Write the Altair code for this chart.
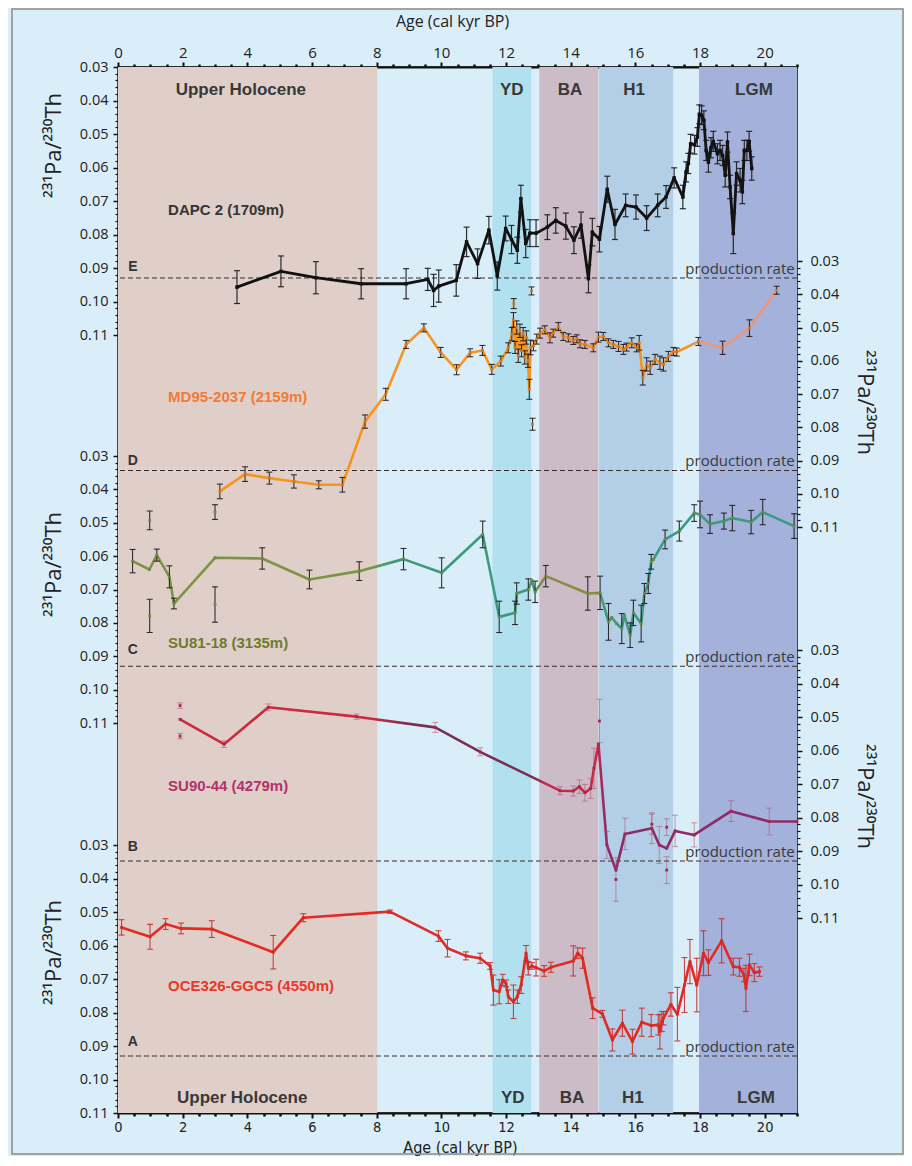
import altair as alt
import pandas as pd

FONT = "Open Sans"
BOLD = "Liberation Sans"
COND = "Liberation Sans Narrow, DejaVu Sans Condensed, Open Sans"

# ---------------- axes values ----------------
x_domain = [0, 21]
x_major_ticks = [0, 2, 4, 6, 8, 10, 12, 14, 16, 18, 20]
x_minor_ticks = [0.5, 1, 1.5, 2.5, 3, 3.5, 4.5, 5, 5.5, 6.5, 7, 7.5, 8.5, 9, 9.5,
                 10.5, 11, 11.5, 12.5, 13, 13.5, 14.5, 15, 15.5, 16.5, 17, 17.5,
                 18.5, 19, 19.5, 20.5, 21]
y_domain = [0.03, 0.11]
y_major_ticks = [0.03, 0.04, 0.05, 0.06, 0.07, 0.08, 0.09, 0.10, 0.11]
y_minor_ticks = [0.032, 0.034, 0.036, 0.038, 0.042, 0.044, 0.046, 0.048,
                 0.052, 0.054, 0.056, 0.058, 0.062, 0.064, 0.066, 0.068,
                 0.072, 0.074, 0.076, 0.078, 0.082, 0.084, 0.086, 0.088,
                 0.092, 0.094, 0.096, 0.098, 0.102, 0.104, 0.106, 0.108]
production_rate = 0.093
ratio_title = "²³¹Pa/²³⁰Th"

# ---------------- climate intervals ----------------
band_start = [0.0, 11.58, 13.03, 14.88, 17.97]
band_end = [8.02, 12.78, 14.86, 17.17, 21.0]
band_colors = ["#dfcfc8", "#b1e1ef", "#cbbcc8", "#b3cfe7", "#a3b1db"]
band_names = ["Upper Holocene", "YD", "BA", "H1", "LGM"]
band_label_age_top = [3.8, 12.18, 13.98, 15.96, 19.67]
band_label_age_bottom = [3.84, 12.21, 14.04, 15.92, 19.73]

# ---------------- E : DAPC 2 ----------------
E_age = [3.68, 5.04, 6.12, 7.52, 8.91, 9.58, 9.76, 9.92, 10.46, 10.78,
         11.12, 11.47, 11.73, 11.99, 12.17, 12.35, 12.46, 12.61, 12.74, 12.93,
         13.28, 13.54, 13.85, 14.10, 14.32, 14.55, 14.67, 14.89, 15.13, 15.37,
         15.70, 16.02, 16.35, 16.69, 16.95, 17.20, 17.47, 17.57, 17.64, 17.71,
         17.83, 17.92, 17.98, 18.05, 18.12, 18.19, 18.26, 18.34, 18.41, 18.54,
         18.62, 18.70, 18.78, 18.85, 18.93, 19.03, 19.13, 19.24, 19.31, 19.37,
         19.45, 19.52, 19.60]
E_val = [0.0957, 0.0910, 0.0929, 0.0947, 0.0947, 0.0934, 0.0967, 0.0954, 0.0937, 0.0822,
         0.0887, 0.0787, 0.0924, 0.0782, 0.0815, 0.0847, 0.0693, 0.0827, 0.0796, 0.0796,
         0.0778, 0.0758, 0.0775, 0.0817, 0.0772, 0.0932, 0.0793, 0.0814, 0.0665, 0.0770,
         0.0713, 0.0718, 0.0751, 0.0713, 0.0688, 0.0631, 0.0688, 0.0613, 0.0588, 0.0529,
         0.0532, 0.0509, 0.0441, 0.0444, 0.0459, 0.0549, 0.0584, 0.0541, 0.0522, 0.0559,
         0.0549, 0.0564, 0.0623, 0.0524, 0.0658, 0.0797, 0.0618, 0.0638, 0.0673, 0.0549,
         0.0549, 0.0522, 0.0603]
E_err = [0.0049, 0.0046, 0.0048, 0.0045, 0.0045, 0.0033, 0.0048, 0.0048, 0.0047, 0.0044,
         0.0044, 0.0041, 0.0042, 0.0037, 0.0042, 0.0039, 0.0040, 0.0042, 0.0040, 0.0040,
         0.0037, 0.0038, 0.0039, 0.0040, 0.0039, 0.0042, 0.0041, 0.0038, 0.0039, 0.0045,
         0.0034, 0.0036, 0.0037, 0.0034, 0.0034, 0.0030, 0.0035, 0.0030, 0.0030, 0.0028,
         0.0028, 0.0028, 0.0028, 0.0028, 0.0028, 0.0030, 0.0030, 0.0030, 0.0030, 0.0030,
         0.0030, 0.0030, 0.0035, 0.0030, 0.0035, 0.0060, 0.0035, 0.0035, 0.0035, 0.0030,
         0.0030, 0.0030, 0.0035]

# ---------------- D : MD95-2037 ----------------
D_age = [3.15, 3.93, 4.68, 5.44, 6.21, 6.94, 7.64, 8.28, 8.91, 9.46,
         9.98, 10.47, 10.89, 11.27, 11.56, 11.84, 12.07, 12.18, 12.23, 12.28,
         12.33, 12.38, 12.43, 12.48, 12.53, 12.58, 12.63, 12.68, 12.72, 12.76,
         12.85, 12.95, 13.05, 13.20, 13.36, 13.46, 13.62, 13.77, 13.93, 14.08,
         14.19, 14.29, 14.44, 14.70, 14.86, 15.01, 15.17, 15.32, 15.48, 15.63,
         15.73, 15.89, 16.04, 16.12, 16.23, 16.35, 16.46, 16.61, 16.76, 16.87,
         17.02, 17.18, 17.28, 17.95, 18.70, 19.53, 20.37]
D_val = [0.0993, 0.0941, 0.0953, 0.0963, 0.0973, 0.0973, 0.0783, 0.0701, 0.0551, 0.0501,
         0.0575, 0.0627, 0.0576, 0.0569, 0.0626, 0.0601, 0.0561, 0.0520, 0.0477, 0.0560,
         0.0500, 0.0585, 0.0510, 0.0570, 0.0520, 0.0590, 0.0530, 0.0600, 0.0686, 0.0560,
         0.0555, 0.0535, 0.0517, 0.0507, 0.0531, 0.0517, 0.0497, 0.0527, 0.0531, 0.0539,
         0.0534, 0.0549, 0.0551, 0.0561, 0.0529, 0.0527, 0.0546, 0.0551, 0.0557, 0.0566,
         0.0559, 0.0546, 0.0561, 0.0546, 0.0651, 0.0611, 0.0621, 0.0596, 0.0606, 0.0611,
         0.0587, 0.0572, 0.0574, 0.0542, 0.0561, 0.0502, 0.0388]
D_err = [0.0022, 0.0022, 0.0018, 0.0020, 0.0012, 0.0022, 0.0020, 0.0018, 0.0012, 0.0012,
         0.0015, 0.0015, 0.0012, 0.0015, 0.0015, 0.0015, 0.0015, 0.0020, 0.0022, 0.0018,
         0.0020, 0.0020, 0.0020, 0.0018, 0.0020, 0.0020, 0.0020, 0.0020, 0.0030, 0.0022,
         0.0015, 0.0015, 0.0015, 0.0012, 0.0015, 0.0012, 0.0012, 0.0012, 0.0012, 0.0012,
         0.0012, 0.0012, 0.0012, 0.0012, 0.0015, 0.0012, 0.0012, 0.0012, 0.0015, 0.0015,
         0.0012, 0.0015, 0.0012, 0.0022, 0.0022, 0.0020, 0.0020, 0.0015, 0.0020, 0.0020,
         0.0015, 0.0012, 0.0012, 0.0012, 0.0020, 0.0025, 0.0012]
D_iso_age = [12.24, 12.79, 12.82]
D_iso_val = [0.0428, 0.0390, 0.0791]
D_iso_err = [0.0015, 0.0012, 0.0018]

# ---------------- C : SU81-18 ----------------
C_age = [0.45, 0.97, 1.20, 1.59, 1.73, 3.00, 4.46, 5.92, 7.46, 8.83,
         10.01, 11.28, 11.79, 12.28, 12.33, 12.69, 12.80, 12.90, 13.23, 14.53,
         14.91, 15.17, 15.27, 15.42, 15.58, 15.66, 15.84, 15.94, 16.18, 16.28,
         16.40, 16.49, 16.56, 16.92, 17.36, 17.82, 18.00, 18.31, 18.74, 19.00,
         19.58, 19.94, 20.91]
C_val = [0.0615, 0.0640, 0.0597, 0.0662, 0.0742, 0.0605, 0.0607, 0.0670, 0.0645, 0.0609,
         0.0650, 0.0535, 0.0782, 0.0770, 0.0712, 0.0700, 0.0672, 0.0707, 0.0660, 0.0712,
         0.0710, 0.0797, 0.0784, 0.0802, 0.0817, 0.0777, 0.0837, 0.0770, 0.0802, 0.0712,
         0.0682, 0.0617, 0.0610, 0.0550, 0.0525, 0.0471, 0.0475, 0.0504, 0.0495, 0.0486,
         0.0498, 0.0468, 0.0510]
C_err = [0.0035, 0.0, 0.0018, 0.0033, 0.0016, 0.0, 0.0032, 0.0028, 0.0028, 0.0032,
         0.0045, 0.0040, 0.0047, 0.0035, 0.0032, 0.0032, 0.0, 0.0032, 0.0032, 0.0050,
         0.0050, 0.0055, 0.0, 0.0, 0.0045, 0.0, 0.0037, 0.0038, 0.0055, 0.0030,
         0.0030, 0.0022, 0.0, 0.0028, 0.0030, 0.0025, 0.0040, 0.0028, 0.0024, 0.0038,
         0.0035, 0.0038, 0.0037]
C_iso_age = [0.98, 0.98, 3.00, 3.00]
C_iso_val = [0.0493, 0.0779, 0.0468, 0.0745]
C_iso_err = [0.0028, 0.0050, 0.0022, 0.0053]

# ---------------- B : SU90-44 ----------------
B_age = [1.92, 3.28, 4.65, 7.38, 9.81, 11.20, 13.67, 14.08, 14.27, 14.44,
         14.62, 14.72, 14.86, 15.12, 15.40, 15.68, 16.51, 16.74, 16.97, 17.23,
         17.82, 18.96, 20.14, 21.00]
B_val = [0.0507, 0.0581, 0.0471, 0.0499, 0.0531, 0.0604, 0.0720, 0.0721, 0.0708, 0.0726,
         0.0713, 0.0653, 0.0581, 0.0882, 0.0957, 0.0849, 0.0832, 0.0882, 0.0892, 0.0840,
         0.0852, 0.0781, 0.0812, 0.0812]
B_err = [0.0, 0.0010, 0.0010, 0.0008, 0.0015, 0.0012, 0.0012, 0.0015, 0.0020, 0.0025,
         0.0030, 0.0060, 0.0, 0.0040, 0.0, 0.0047, 0.0046, 0.0055, 0.0, 0.0047,
         0.0036, 0.0031, 0.0040, 0.0]
B_iso_age = [1.92, 1.92, 14.89, 15.40, 16.51, 16.97, 16.97]
B_iso_val = [0.0466, 0.0557, 0.0512, 0.0985, 0.0820, 0.0829, 0.0957]
B_iso_err = [0.0008, 0.0008, 0.0065, 0.0065, 0.0030, 0.0025, 0.0040]

# ---------------- A : OCE326-GGC5 ----------------
A_age = [0.11, 0.99, 1.47, 1.95, 2.90, 4.80, 5.73, 8.41, 9.91, 10.19,
         10.76, 11.20, 11.51, 11.61, 11.79, 11.90, 12.00, 12.07, 12.23, 12.35,
         12.47, 12.62, 12.69, 12.80, 12.93, 13.18, 13.39, 14.08, 14.22, 14.37,
         14.68, 14.98, 15.29, 15.60, 15.91, 16.20, 16.49, 16.71, 16.76, 16.82,
         16.87, 17.10, 17.30, 17.52, 17.69, 17.90, 18.11, 18.26, 18.67, 19.03,
         19.22, 19.36, 19.42, 19.53, 19.68, 19.84]
A_val = [0.0546, 0.0574, 0.0536, 0.0549, 0.0551, 0.0620, 0.0517, 0.0499, 0.0572, 0.0608,
         0.0631, 0.0638, 0.0661, 0.0733, 0.0738, 0.0703, 0.0713, 0.0753, 0.0768, 0.0753,
         0.0718, 0.0623, 0.0668, 0.0661, 0.0666, 0.0676, 0.0665, 0.0646, 0.0623, 0.0638,
         0.0787, 0.0804, 0.0882, 0.0832, 0.0887, 0.0829, 0.0839, 0.0837, 0.0857, 0.0827,
         0.0817, 0.0776, 0.0805, 0.0718, 0.0648, 0.0718, 0.0623, 0.0651, 0.0586, 0.0663,
         0.0665, 0.0688, 0.0728, 0.0658, 0.0681, 0.0678]
A_err = [0.0023, 0.0037, 0.0016, 0.0016, 0.0025, 0.0050, 0.0012, 0.0005, 0.0016, 0.0026,
         0.0012, 0.0015, 0.0010, 0.0045, 0.0036, 0.0017, 0.0010, 0.0020, 0.0050, 0.0020,
         0.0025, 0.0023, 0.0020, 0.0010, 0.0025, 0.0016, 0.0015, 0.0045, 0.0016, 0.0030,
         0.0031, 0.0010, 0.0033, 0.0039, 0.0037, 0.0042, 0.0033, 0.0030, 0.0052, 0.0030,
         0.0020, 0.0035, 0.0080, 0.0082, 0.0066, 0.0080, 0.0067, 0.0038, 0.0066, 0.0025,
         0.0027, 0.0020, 0.0069, 0.0032, 0.0027, 0.0014]

# ---------------- labels ----------------
record_keys = ["E", "D", "C", "B", "A"]
record_names = ["DAPC 2 (1709m)", "MD95-2037 (2159m)", "SU81-18 (3135m)",
                "SU90-44 (4279m)", "OCE326-GGC5 (4550m)"]
record_name_age = [1.55, 1.55, 1.55, 1.55, 1.55]
record_name_val = [0.0728, 0.0710, 0.0861, 0.0706, 0.0721]
record_name_colors = ["#353535", "#f47a35", "#6e7b2e", "#b5306c", "#e8392c"]
letter_val = [0.0897, 0.0901, 0.0882, 0.0887, 0.0887]

# ---------------- layout (pixel geometry only) ----------------
W, H = 679, 1046
RANGES = {"E": [0, 268], "D": [194, 460], "C": [389, 656], "B": [583, 851], "A": [778, 1046]}
ORIENT = {"E": "left", "D": "right", "C": "left", "B": "right", "A": "left"}
TITLE_Y = {"E": 78, "D": 335, "C": 497, "B": 729, "A": 885}

XS = alt.Scale(domain=x_domain, nice=False, zero=False)


def yscale(key):
    return alt.Scale(domain=y_domain, range=RANGES[key], nice=False, zero=False)


def xq(field):
    return alt.X(f"{field}:Q", scale=XS, axis=None)


def yq(field, key, axis=None):
    return alt.Y(f"{field}:Q", scale=yscale(key), axis=axis)


def grad(stops):
    return alt.LinearGradient(
        gradient="linear",
        stops=[alt.GradientStop(color=c, offset=o) for o, c in stops],
        x1=0, x2=1, y1=0, y2=0)


def series_df(age, val, err, iso_age=(), iso_val=(), iso_err=()):
    d1 = pd.DataFrame({"age": age, "val": val, "err": err, "conn": 1})
    d2 = pd.DataFrame({"age": list(iso_age), "val": list(iso_val), "err": list(iso_err), "conn": 0})
    return pd.concat([d1, d2], ignore_index=True)


def series_layers(key, df, line_color, lw, err_color, err_w, err_op, pt_color, pt_size=10):
    base = alt.Chart(df)
    out = []
    out.append(base.transform_filter("datum.conn == 1").mark_line(
        color=line_color, strokeWidth=lw, strokeJoin="round").encode(
        x=xq("age"), y=yq("val", key)))
    eb = base.transform_filter("datum.err > 0").transform_calculate(
        lo="datum.val - datum.err", hi="datum.val + datum.err")
    out.append(eb.mark_rule(color=err_color, strokeWidth=err_w, opacity=err_op).encode(
        x=xq("age"), y=yq("lo", key), y2="hi:Q"))
    for f in ("lo", "hi"):
        out.append(eb.mark_tick(orient="horizontal", color=err_color, size=6,
                                thickness=err_w, opacity=err_op).encode(
            x=xq("age"), y=yq(f, key)))
    out.append(base.mark_point(shape="square", filled=True, size=pt_size,
                               color=pt_color, opacity=1).encode(
        x=xq("age"), y=yq("val", key)))
    return out


def text_layer(key, xs, ys, texts, color, size, weight, align, baseline, font):
    df = pd.DataFrame({"x": xs, "y": ys, "t": texts})
    return alt.Chart(df).mark_text(
        color=color, fontSize=size, fontWeight=weight, align=align,
        baseline=baseline, font=font).encode(
        x=xq("x"), y=yq("y", key), text="t:N")


layers = []

# climate interval shading
bands = pd.DataFrame({"s": band_start, "e": band_end, "c": band_colors})
layers.append(alt.Chart(bands).mark_rect(opacity=1).encode(
    x=alt.X("s:Q", scale=XS, axis=None), x2="e:Q",
    fill=alt.Fill("c:N", scale=None)))

# production-rate lines + y axes (major and minor ticks)
for key in record_keys:
    left = ORIENT[key] == "left"
    major = alt.Axis(
        orient=ORIENT[key], values=y_major_ticks, format=".2f", domain=False, grid=False,
        ticks=True, tickSize=5, tickWidth=1.5, tickColor="#111",
        labelFont=FONT, labelFontSize=14.5, labelColor="#222",
        labelPadding=5 if left else 8, labelOverlap=False, labelFlush=False,
        title=ratio_title, titleFont=FONT, titleFontSize=22, titleFontWeight="normal",
        titleColor="#222", titleAngle=-90 if left else 90, titleBaseline="bottom",
        titleAlign="center", titleX=-53 if left else 55, titleY=TITLE_Y[key])
    minor = alt.Axis(
        orient=ORIENT[key], values=y_minor_ticks, domain=False, grid=False, labels=False,
        ticks=True, tickSize=3, tickWidth=1.2, tickColor="#111", title=None)
    pr = pd.DataFrame({"v": [production_rate]})
    layers.append(alt.Chart(pr).mark_rule(
        color="#3a2c2c", strokeWidth=1.1, strokeDash=[5, 3]).encode(
        y=yq("v", key, major)))
    layers.append(alt.Chart(pr).mark_point(opacity=0).encode(
        y=yq("v", key, minor)))

# age axes (top and bottom, major + minor ticks)
dummy = pd.DataFrame({"a": [0]})
x_axes = [
    alt.Axis(orient="top", values=x_major_ticks, format="d", domain=True, domainColor="#111",
             domainWidth=2, tickSize=5, tickWidth=2, tickColor="#111", labelFont=FONT,
             labelFontSize=15, labelColor="#222", labelPadding=2, labelFlush=False,
             labelOverlap=False, grid=False, title="Age (cal kyr BP)", titleFont=FONT,
             titleFontSize=16, titleFontWeight="normal", titleColor="#222", titleX=334,
             titleY=-46, titleBaseline="middle", titleAlign="center", titleAngle=0),
    alt.Axis(orient="top", values=x_minor_ticks, domain=False, labels=False, tickSize=3,
             tickWidth=2.5, tickColor="#111", grid=False, title=None),
    alt.Axis(orient="bottom", values=x_major_ticks, format="d", domain=True, domainColor="#111",
             domainWidth=2, tickSize=5, tickWidth=2, tickColor="#111", labelFont=COND,
             labelFontSize=14.5, labelColor="#222", labelPadding=2, labelFlush=False,
             labelOverlap=False, grid=False, title="Age (cal kyr BP)", titleFont=COND,
             titleFontSize=16, titleFontWeight="normal", titleColor="#222", titleX=342,
             titleY=26, titleBaseline="top", titleAlign="center", titleAngle=0),
    alt.Axis(orient="bottom", values=x_minor_ticks, domain=False, labels=False, tickSize=3,
             tickWidth=2.5, tickColor="#111", grid=False, title=None),
]
for ax in x_axes:
    layers.append(alt.Chart(dummy).mark_point(opacity=0).encode(
        x=alt.X("a:Q", scale=XS, axis=ax)))

# records
E_df = series_df(E_age, E_val, E_err)
D_df = series_df(D_age, D_val, D_err, D_iso_age, D_iso_val, D_iso_err)
C_df = series_df(C_age, C_val, C_err, C_iso_age, C_iso_val, C_iso_err)
B_df = series_df(B_age, B_val, B_err, B_iso_age, B_iso_val, B_iso_err)
A_df = series_df(A_age, A_val, A_err)

D_color = grad([(0, "#f7941d"), (0.839, "#f7941d"), (0.862, "#e9977d"), (1, "#e9977d")])
C_color = grad([(0, "#7d9446"), (0.349, "#7d9446"), (0.398, "#3d9a7c"), (0.604, "#3d9a7c"),
                (0.619, "#8d8a45"), (0.701, "#8d8a45"), (0.716, "#3a9a82"), (1, "#3a9a82")])
B_color = grad([(0, "#cc2a40"), (0.308, "#cc2a40"), (0.371, "#7b2d55"), (0.575, "#7b2d55"),
                (0.591, "#c42a48"), (0.675, "#c42a48"), (0.691, "#8e2a6a"), (1, "#8e2a6a")])

layers += series_layers("E", E_df, "#111111", 2.8, "#1a1a1a", 1.2, 0.9, "#111111", 12)
layers += series_layers("D", D_df, D_color, 2.6, "#2a1a1a", 1.1, 0.9, "#c87a30", 8)
layers += series_layers("C", C_df, C_color, 2.6, "#1f1a1a", 1.1, 0.9, "#6a8a4a", 8)
layers += series_layers("B", B_df, B_color, 2.6, "#b04a6a", 0.9, 0.6, "#a02a50", 8)
layers += series_layers("A", A_df, "#e42a24", 2.6, "#c8302c", 1.1, 0.9, "#d42a24", 8)

# interval labels
layers.append(text_layer("E", band_label_age_top, [0.0370] * 5, band_names,
                         "#383838", 17, "bold", "center", "middle", BOLD))
layers.append(text_layer("A", band_label_age_bottom, [0.1055] * 5, band_names,
                         "#383838", 17, "bold", "center", "middle", BOLD))

# record names, letters and production-rate captions
for i, key in enumerate(record_keys):
    layers.append(text_layer(key, [record_name_age[i]], [record_name_val[i]], [record_names[i]],
                             record_name_colors[i], 15, "bold", "left", "middle", BOLD))
    layers.append(text_layer(key, [0.46], [letter_val[i]], [key],
                             "#333333", 14, "bold", "center", "middle", BOLD))
    layers.append(text_layer(key, [20.93], [0.0926], ["production rate"],
                             "#3a3a3a", 15, "normal", "right", "bottom", FONT))

# outer frame
layers.append(alt.Chart(dummy).mark_rect(fillOpacity=0, stroke="#8a8a8a", strokeWidth=1.5).encode(
    x=alt.value(-106), x2=alt.value(785), y=alt.value(-58), y2=alt.value(1087)))

chart = alt.layer(*layers).resolve_scale(y="independent").resolve_axis(
    x="independent", y="independent").properties(
    width=W, height=H, background="#d9eef9",
    padding={"left": 110, "top": 59, "right": 107, "bottom": 43},
    autosize=alt.AutoSizeParams(type="none")).configure_view(
    stroke="#111111", strokeWidth=1.5)

chart.save("out.html", embed_options={"renderer": "svg", "actions": False})
